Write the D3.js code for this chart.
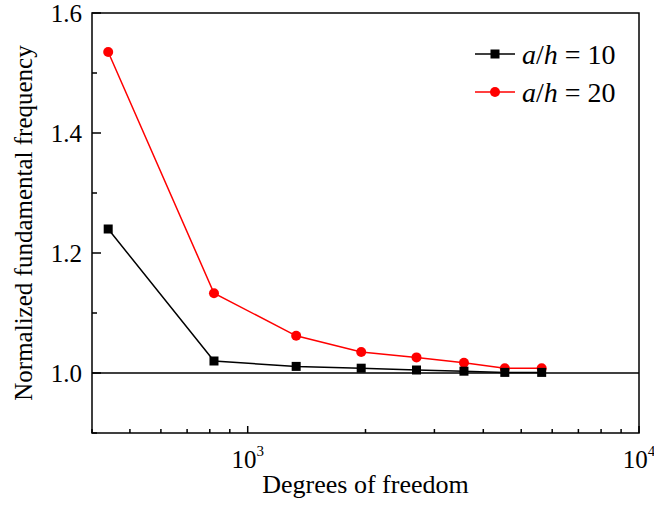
<!DOCTYPE html>
<html>
<head>
<meta charset="utf-8">
<style>
  body { margin: 0; background: #fff; }
  text { font-family: "Liberation Serif", "Times New Roman", serif; fill: #000; }
</style>
</head>
<body>
<div id="my_dataviz"></div>
<script src="https://d3js.org/d3.v7.min.js"></script>
<script>

// data
var dof = [440, 820, 1330, 1950, 2700, 3570, 4540, 5640];
var ah10 = [1.240, 1.020, 1.011, 1.008, 1.005, 1.003, 1.001, 1.001];
var ah20 = [1.535, 1.133, 1.062, 1.035, 1.026, 1.017, 1.008, 1.008];
var seriesNames = ["10", "20"];
var yMajor = [1.0, 1.2, 1.4, 1.6];
var yMinor = [0.9, 1.1, 1.3, 1.5];
var xMajor = [1000, 10000];
var xMinor = [400, 500, 600, 700, 800, 900, 2000, 3000, 4000, 5000, 6000, 7000, 8000, 9000];

var margin = {top: 13, right: 15, bottom: 73, left: 92},
    width = 654 - margin.left - margin.right,
    height = 506 - margin.top - margin.bottom;

var svg = d3.select("#my_dataviz")
  .append("svg")
    .attr("width", 654)
    .attr("height", 506)
  .append("g")
    .attr("transform", "translate(" + margin.left + "," + margin.top + ")");

var x = d3.scaleLog()
  .domain([400, 10000])
  .range([0, width]);

var y = d3.scaleLinear()
  .domain([0.9, 1.6])
  .range([height, 0]);

// frame
svg.append("rect")
  .attr("width", width)
  .attr("height", height)
  .attr("fill", "none")
  .attr("stroke", "#000")
  .attr("stroke-width", 1.5);

// bottom axis, ticks pointing inward
svg.selectAll(".xmaj")
  .data(xMajor)
  .enter().append("line")
    .attr("x1", d => x(d)).attr("x2", d => x(d))
    .attr("y1", height).attr("y2", height - 7)
    .attr("stroke", "#000").attr("stroke-width", 1.5);
svg.selectAll(".xmin")
  .data(xMinor)
  .enter().append("line")
    .attr("x1", d => x(d)).attr("x2", d => x(d))
    .attr("y1", height).attr("y2", height - 4)
    .attr("stroke", "#000").attr("stroke-width", 1.5);

var xl = svg.selectAll(".xlab")
  .data(xMajor)
  .enter().append("text")
    .attr("x", d => x(d))
    .attr("y", height + 35)
    .attr("text-anchor", "middle")
    .style("font-size", "25px");
xl.append("tspan").text("10");
xl.append("tspan")
  .attr("dy", -12)
  .style("font-size", "15px")
  .text(d => Math.round(Math.log10(d)));

// left axis
svg.selectAll(".ymaj")
  .data(yMajor)
  .enter().append("line")
    .attr("x1", 0).attr("x2", 9)
    .attr("y1", d => y(d)).attr("y2", d => y(d))
    .attr("stroke", "#000").attr("stroke-width", 1.5);
svg.selectAll(".ymin")
  .data(yMinor)
  .enter().append("line")
    .attr("x1", 0).attr("x2", 5)
    .attr("y1", d => y(d)).attr("y2", d => y(d))
    .attr("stroke", "#000").attr("stroke-width", 1.5);
svg.selectAll(".ylab")
  .data(yMajor)
  .enter().append("text")
    .attr("x", -10)
    .attr("y", d => y(d))
    .attr("dy", "0.34em")
    .attr("text-anchor", "end")
    .style("font-size", "25px")
    .text(d => d.toFixed(1));

// axis titles
svg.append("text")
  .attr("x", width / 2)
  .attr("y", height + 60)
  .attr("text-anchor", "middle")
  .style("font-size", "26px")
  .text("Degrees of freedom");
svg.append("text")
  .attr("transform", "translate(-60," + (height / 2) + ") rotate(-90)")
  .attr("text-anchor", "middle")
  .style("font-size", "25px")
  .text("Normalized fundamental frequency");

// reference line at 1.0
svg.append("line")
  .attr("x1", 0).attr("x2", width)
  .attr("y1", y(1)).attr("y2", y(1))
  .attr("stroke", "#000").attr("stroke-width", 1.5);

var line = d3.line()
  .x((d, i) => x(dof[i]))
  .y(d => y(d));

// a/h = 20
svg.append("path")
  .datum(ah20)
  .attr("d", line)
  .attr("fill", "none")
  .attr("stroke", "#ff0000")
  .attr("stroke-width", 1.5);
svg.selectAll(".c20")
  .data(ah20)
  .enter().append("circle")
    .attr("cx", (d, i) => x(dof[i]))
    .attr("cy", d => y(d))
    .attr("r", 5)
    .attr("fill", "#ff0000");

// a/h = 10
svg.append("path")
  .datum(ah10)
  .attr("d", line)
  .attr("fill", "none")
  .attr("stroke", "#000")
  .attr("stroke-width", 1.5);
svg.selectAll(".s10")
  .data(ah10)
  .enter().append("rect")
    .attr("x", (d, i) => x(dof[i]) - 4.5)
    .attr("y", d => y(d) - 4.5)
    .attr("width", 9)
    .attr("height", 9)
    .attr("fill", "#000");

// legend
var legColors = ["#000", "#ff0000"];
var leg = svg.selectAll(".leg")
  .data(seriesNames)
  .enter().append("g")
    .attr("transform", (d, i) => "translate(" + 383 + "," + (41 + i * 38) + ")");
leg.append("line")
  .attr("x1", 0).attr("x2", 40)
  .attr("stroke", (d, i) => legColors[i])
  .attr("stroke-width", 1.5);
leg.filter((d, i) => i === 0).append("rect")
  .attr("x", 15.5).attr("y", -4.5).attr("width", 9).attr("height", 9)
  .attr("fill", "#000");
leg.filter((d, i) => i === 1).append("circle")
  .attr("cx", 20).attr("r", 5)
  .attr("fill", "#ff0000");
var lt = leg.append("text")
  .attr("x", 47)
  .attr("dy", "0.34em")
  .style("font-size", "28px");
lt.append("tspan").style("font-style", "italic").text("a");
lt.append("tspan").text("/");
lt.append("tspan").style("font-style", "italic").text("h");
lt.append("tspan").text(d => " = " + d);

</script>
</body>
</html>
